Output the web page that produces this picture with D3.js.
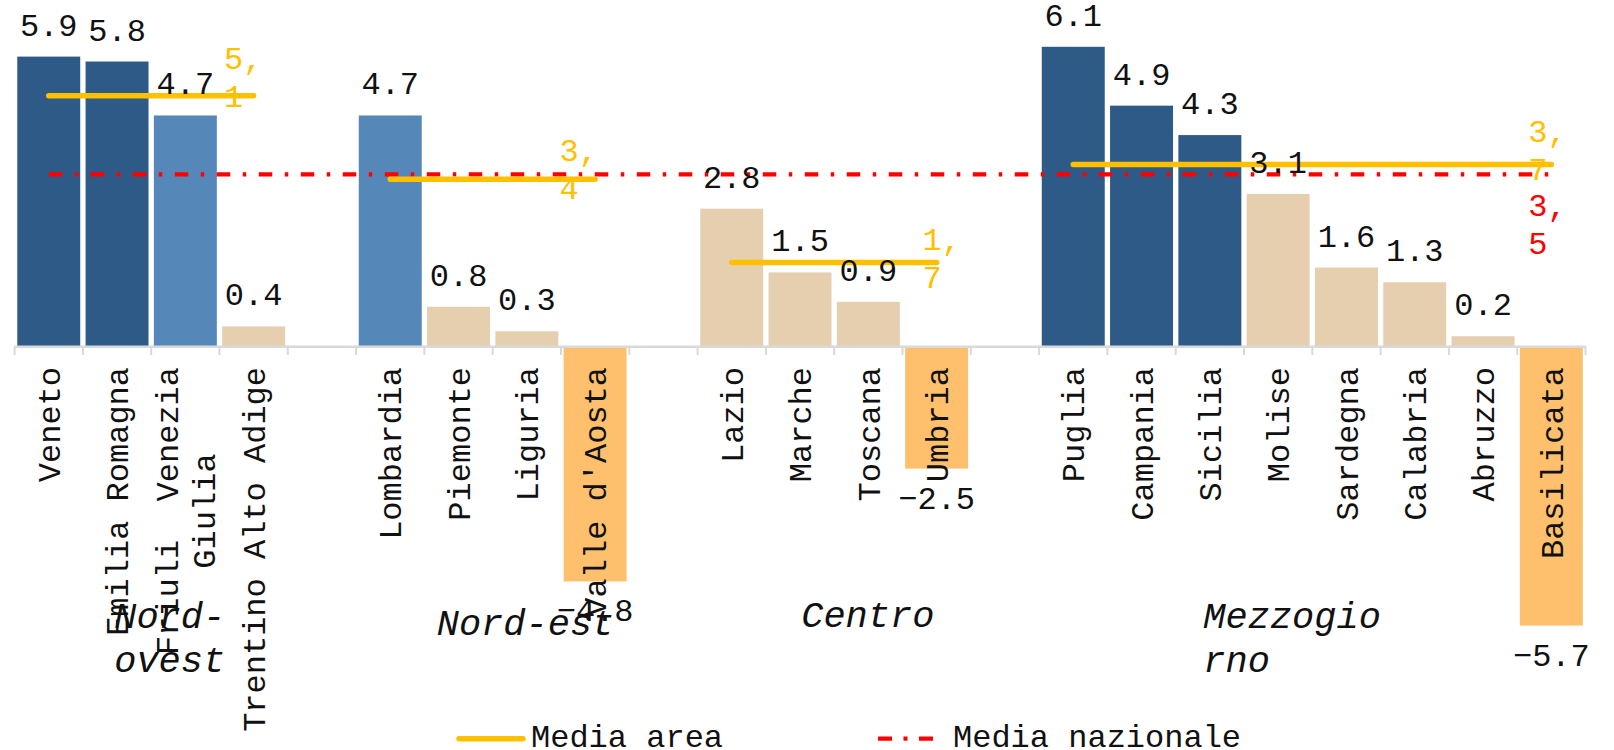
<!DOCTYPE html>
<html>
<head>
<meta charset="utf-8">
<script src="https://cdn.jsdelivr.net/npm/d3@7"></script>
<style>
  html, body { margin: 0; padding: 0; background: #ffffff; }
  svg { display: block; }
  text { font-family: "Liberation Mono", "Courier New", monospace; }
</style>
</head>
<body>
<svg id="chart" width="1614" height="750"></svg>
<script>
// ---------------- DATA ----------------
const groups = ["Nord-ovest", "Nord-est", "Centro", "Mezzogiorno"];
const regions = ["Veneto", "Emilia Romagna", "Friuli  Venezia Giulia", "Trentino Alto Adige",
                 "Lombardia", "Piemonte", "Liguria", "Valle d'Aosta",
                 "Lazio", "Marche", "Toscana", "Umbria",
                 "Puglia", "Campania", "Sicilia", "Molise", "Sardegna", "Calabria", "Abruzzo", "Basilicata"];
const regionGroup = [0, 0, 0, 0, 1, 1, 1, 1, 2, 2, 2, 2, 3, 3, 3, 3, 3, 3, 3, 3];
const values = [5.9, 5.8, 4.7, 0.4, 4.7, 0.8, 0.3, -4.8, 2.8, 1.5, 0.9, -2.5,
                6.1, 4.9, 4.3, 3.1, 1.6, 1.3, 0.2, -5.7];
const valueClass = ["alto", "alto", "medio", "basso", "medio", "basso", "basso", "negativo",
                    "basso", "basso", "basso", "negativo",
                    "alto", "alto", "alto", "basso", "basso", "basso", "basso", "negativo"];
const areaMeans = [5.1, 3.4, 1.7, 3.7];
const nationalMean = 3.5;
const legendLabels = ["Media area", "Media nazionale"];

// ---------------- STYLE / LAYOUT ----------------
const W = 1614, H = 750;
const classColor = { alto: "#2E5A87", medio: "#5588B8", basso: "#E5CFAF", negativo: "#FFC06E" };
const yellow = "#FFC000", red = "#FF0000", axisGrey = "#D9D9D9", textColor = "#111111";
const FONT = 32, GROUP_FONT = 37;
const areaLabelOffsets = [[-29.6, -26.5], [-35.7, -18.5], [-14.2, -12.6], [-23, -22.8]];
const nationalLabelOffset = [-23, 41.4];
const groupLabelOffsets = [[-37, 0], [-56, 7], [-33, -1], [-109, 0]];

const svg = d3.select("#chart");

// slots: regions, with an empty slot between groups
const slots = [];
groups.forEach((g, gi) => {
  regions.forEach((r, i) => { if (regionGroup[i] === gi) slots.push(r); });
  if (gi < groups.length - 1) slots.push("__gap" + gi);
});

const x = d3.scaleBand().domain(slots).range([14.6, 1585.5]).paddingInner(0.078).paddingOuter(0.039);
const y = d3.scaleLinear().domain([-6.5, 6.5]).range([346 + 6.5 * 49.05, 346 - 6.5 * 49.05]);
const step = x.step(), bw = x.bandwidth();
const slotLeft = k => x(k) - (step - bw) / 2;
const cx = k => x(k) + bw / 2;
const y0 = y(0);

const data = regions.map((r, i) => ({ name: r, value: values[i], cls: valueClass[i], group: regionGroup[i] }));

// ---- bars
svg.append("g").selectAll("rect").data(data).join("rect")
  .attr("x", d => x(d.name))
  .attr("width", bw)
  .attr("y", d => d.value >= 0 ? y(d.value) : y0)
  .attr("height", d => Math.abs(y(d.value) - y0))
  .attr("fill", d => classColor[d.cls]);

// ---- axis line and ticks
const axisG = svg.append("g");
const r0 = x.range()[0], r1 = x.range()[1];
axisG.append("line").attr("x1", r0).attr("x2", r1).attr("y1", y0 + 0.7).attr("y2", y0 + 0.7)
  .attr("stroke", axisGrey).attr("stroke-width", 2.5);
const tickPos = slots.map(slotLeft).concat([r1]);
axisG.selectAll("line.tick").data(tickPos).join("line").attr("class", "tick")
  .attr("x1", d => d).attr("x2", d => d).attr("y1", y0).attr("y2", y0 + 9)
  .attr("stroke", axisGrey).attr("stroke-width", 2);

// ---- category labels (rotated, wrapped)
function wrapWords(str, maxChars) {
  const words = str.split(" ");
  const lines = [];
  let cur = "";
  words.forEach(w => {
    const cand = cur === "" ? w : cur + " " + w;
    if (cand.length > maxChars && cur !== "") { lines.push(cur.replace(/ +$/, "")); cur = w; }
    else cur = cand;
  });
  lines.push(cur);
  return lines;
}
const labelTop = y0 + 21;
const catG = svg.append("g");
data.forEach(d => {
  const lines = wrapWords(d.name, 19);
  const g = catG.append("g").attr("transform", `translate(${cx(d.name)},${labelTop}) rotate(-90)`);
  const lh = 37.6;
  const n = lines.length;
  const texts = lines.map((ln, i) => g.append("text")
    .attr("xml:space", "preserve").style("white-space", "pre")
    .attr("font-size", FONT).attr("fill", textColor)
    .attr("dy", (0.35 * FONT + (i - (n - 1) / 2) * lh) + "px")
    .text(ln));
  if (n === 1) {
    texts[0].attr("text-anchor", "end").attr("x", 0);
  } else {
    const maxLen = d3.max(texts, t => t.node().getComputedTextLength());
    texts.forEach(t => t.attr("text-anchor", "middle").attr("x", -maxLen / 2));
  }
});

// ---- mean lines
const groupFirst = gi => data.find(d => d.group === gi).name;
const groupLast = gi => data.filter(d => d.group === gi).slice(-1)[0].name;
const firstName = data[0].name, lastName = data[data.length - 1].name;

svg.append("line")
  .attr("x1", cx(firstName)).attr("x2", cx(lastName))
  .attr("y1", y(nationalMean)).attr("y2", y(nationalMean))
  .attr("stroke", red).attr("stroke-width", 4.2).attr("stroke-dasharray", "13.5,12.5,3.5,12.5");

svg.append("g").selectAll("line").data(areaMeans).join("line")
  .attr("x1", (d, i) => cx(groupFirst(i))).attr("x2", (d, i) => cx(groupLast(i)))
  .attr("y1", d => y(d)).attr("y2", d => y(d))
  .attr("stroke", yellow).attr("stroke-width", 5.5).attr("stroke-linecap", "round");

// ---- mean labels (wrapped, e.g. "5," / "1")
const fmtComma = v => d3.format(".1f")(v).replace(".", ",");
function meanLabel(v, xEnd, yLine, off, color) {
  const s = fmtComma(v);
  const parts = [s.slice(0, s.indexOf(",") + 1), s.slice(s.indexOf(",") + 1)];
  const t = svg.append("text").attr("font-size", FONT).attr("fill", color);
  parts.forEach((p, i) => t.append("tspan")
    .attr("x", xEnd + off[0]).attr("y", yLine + off[1] + i * 38).text(p));
}
areaMeans.forEach((v, i) => meanLabel(v, cx(groupLast(i)), y(v), areaLabelOffsets[i], yellow));
meanLabel(nationalMean, cx(lastName), y(nationalMean), nationalLabelOffset, red);

// ---- data labels
const fmt = d3.format(".1f");
svg.append("g").selectAll("text").data(data).join("text")
  .attr("font-size", FONT).attr("fill", textColor).attr("text-anchor", "middle")
  .attr("x", d => cx(d.name))
  .attr("y", d => d.value >= 0 ? y(d.value) - 21 : y(d.value) + 40)
  .text(d => fmt(d.value).replace("-", "-"));

// ---- group labels
function wrapGroup(str, maxChars) {
  if (str.length <= maxChars) return [str];
  const h = str.indexOf("-");
  if (h >= 0 && h < maxChars) return [str.slice(0, h + 1), str.slice(h + 1)];
  return [str.slice(0, maxChars), str.slice(maxChars)];
}
groups.forEach((g, gi) => {
  const members = data.filter(d => d.group === gi);
  const left = slotLeft(members[0].name);
  const right = slotLeft(members[members.length - 1].name) + step;
  const center = (left + right) / 2;
  const lines = wrapGroup(g, 8);
  const t = svg.append("text").attr("font-size", GROUP_FONT).attr("font-style", "italic").attr("fill", textColor);
  lines.forEach((ln, i) => t.append("tspan")
    .attr("x", center + groupLabelOffsets[gi][0])
    .attr("y", 628 + groupLabelOffsets[gi][1] + i * 44).text(ln));
});

// ---- legend
const legY = 738.7;
const leg = svg.append("g");
leg.append("line").attr("x1", 459).attr("x2", 523).attr("y1", legY).attr("y2", legY)
  .attr("stroke", yellow).attr("stroke-width", 5.5).attr("stroke-linecap", "round");
leg.append("text").attr("x", 531).attr("y", 747).attr("font-size", FONT).attr("fill", textColor).text(legendLabels[0]);
leg.append("line").attr("x1", 878).attr("x2", 937).attr("y1", legY).attr("y2", legY)
  .attr("stroke", red).attr("stroke-width", 4.2).attr("stroke-dasharray", "14,11.5,4,11.5");
leg.append("text").attr("x", 953).attr("y", 747).attr("font-size", FONT).attr("fill", textColor).text(legendLabels[1]);
</script>
</body>
</html>
